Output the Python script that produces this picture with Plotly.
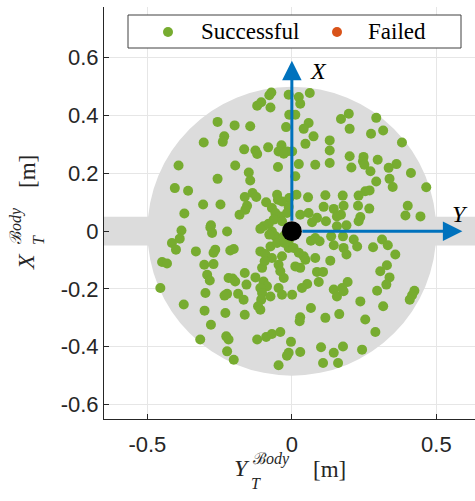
import plotly.graph_objects as go

# ---------------- data ----------------
# horizontal axis: Y_T^Body [m], vertical axis: X_T^Body [m]
SUCCESS_Y_BODY = [
    -0.078, -0.071, -0.011, -0.120, -0.106, -0.074, -0.009, -0.257, -0.198, -0.144,
    -0.020, -0.234, -0.239, -0.305, -0.165, -0.126, -0.120, -0.082, -0.036, -0.046,
    -0.028, -0.017, -0.392, -0.196, -0.149, -0.048, -0.257, -0.144, -0.405, -0.359,
    -0.163, -0.136, -0.123, -0.089, -0.051, -0.048, -0.009, -0.307, -0.247, -0.155,
    -0.161, -0.372, -0.181, -0.069, -0.057, -0.040, -0.063, -0.034, -0.080, -0.011,
    -0.280, -0.098, -0.109, -0.034, -0.017,
    # upper right
    0.062, 0.024, 0.029, 0.012, 0.170, 0.197, 0.292, 0.058, 0.041, 0.200,
    0.075, 0.274, 0.316, 0.047, 0.131, 0.381, 0.131, 0.001, 0.200, 0.248,
    0.246, 0.251, 0.297, 0.131, 0.024, 0.081, 0.206, 0.362, 0.335, 0.272,
    0.412, 0.338, 0.012, 0.292, 0.349, 0.465, 0.254, 0.269, 0.231, 0.176,
    0.116, 0.056, 0.016, 0.401, 0.229, 0.110, 0.145, 0.179, 0.268, 0.393,
    0.445, 0.058, 0.029, 0.087, 0.070, 0.118, 0.156, 0.170, 0.237, 0.231,
    0.189, 0.156,
    # lower left
    -0.382, -0.388, -0.415, -0.401, -0.282, -0.276, -0.224, -0.332, -0.265, -0.271,
    -0.213, -0.201, -0.449, -0.432, -0.303, -0.271, -0.293, -0.284, -0.219, -0.205,
    -0.196, -0.163, -0.126, -0.109, -0.092, -0.074, -0.069, -0.103, -0.094, -0.034,
    -0.011, -0.046, -0.028, -0.098, -0.086, -0.109, -0.103, -0.106, -0.117, -0.109,
    -0.157, -0.046, -0.034, -0.074, 0.001, -0.455, -0.299, -0.224, -0.233, -0.186,
    -0.167, -0.374, -0.302, -0.230, -0.163, -0.280, -0.317, -0.227, -0.219, -0.224,
    -0.201, -0.120, -0.089, -0.069, -0.040, -0.003, -0.011, -0.017, -0.046,
    # lower right
    0.066, 0.096, 0.081, 0.136, 0.177, 0.214, 0.226, 0.145, 0.179, 0.189,
    0.281, 0.312, 0.332, 0.358, 0.006, 0.024, 0.041, 0.047, 0.081, 0.133,
    0.012, 0.029, 0.087, 0.108, 0.093, 0.053, 0.035, 0.193, 0.145, 0.156,
    0.174, 0.179, 0.306, 0.329, 0.338, 0.327, 0.295, 0.424, 0.416, 0.408,
    0.237, 0.316, 0.066, 0.029, 0.027, 0.116, 0.164, 0.254, 0.289, 0.029,
    0.101, 0.145, 0.177, 0.243, 0.108, 0.160,
    # centre cluster
    -0.069, -0.057, -0.051, -0.028, -0.011, -0.078, -0.025, -0.040,
]
SUCCESS_X_BODY = [
    0.470, 0.480, 0.472, 0.434, 0.446, 0.428, 0.403, 0.378, 0.366, 0.363,
    0.360, 0.328, 0.309, 0.307, 0.283, 0.279, 0.267, 0.290, 0.297, 0.276,
    0.268, 0.276, 0.227, 0.227, 0.203, 0.222, 0.181, 0.175, 0.149, 0.140,
    0.118, 0.132, 0.118, 0.100, 0.126, 0.109, 0.115, 0.092, 0.092, 0.088,
    0.074, 0.061, 0.057, 0.080, 0.063, 0.051, 0.040, 0.034, 0.026, 0.084,
    0.020, 0.017, 0.008, 0.103, 0.063,
    # upper right
    0.478, 0.464, 0.441, 0.403, 0.388, 0.406, 0.392, 0.374, 0.354, 0.354,
    0.328, 0.337, 0.348, 0.302, 0.314, 0.307, 0.279, 0.276, 0.259, 0.257,
    0.242, 0.230, 0.247, 0.236, 0.232, 0.230, 0.220, 0.232, 0.219, 0.207,
    0.201, 0.181, 0.190, 0.172, 0.153, 0.152, 0.138, 0.141, 0.123, 0.123,
    0.124, 0.117, 0.126, 0.088, 0.088, 0.084, 0.077, 0.088, 0.078, 0.054,
    0.051, 0.063, 0.057, 0.046, 0.031, 0.034, 0.051, 0.057, 0.049, 0.034,
    0.020, 0.017,
    # lower left
    0.002, -0.026, -0.041, -0.064, 0.013, -0.006, -0.001, -0.070, -0.064, -0.075,
    -0.067, -0.062, -0.107, -0.112, -0.116, -0.114, -0.151, -0.171, -0.162, -0.164,
    -0.174, -0.145, -0.160, -0.070, -0.079, -0.053, -0.093, -0.127, -0.104, -0.087,
    -0.058, -0.116, -0.162, -0.174, -0.191, -0.197, -0.214, -0.237, -0.260, -0.272,
    -0.185, -0.197, -0.220, -0.226, -0.220, -0.197, -0.214, -0.217, -0.223, -0.217,
    -0.237, -0.254, -0.275, -0.283, -0.289, -0.324, -0.375, -0.364, -0.375, -0.416,
    -0.445, -0.375, -0.366, -0.356, -0.349, -0.383, -0.421, -0.431, -0.464,
    # lower right
    -0.033, -0.035, -0.024, -0.018, -0.018, -0.029, -0.053, -0.049, -0.058, -0.081,
    -0.056, -0.029, -0.049, -0.081, -0.058, -0.075, -0.087, -0.099, -0.093, -0.102,
    -0.122, -0.127, -0.141, -0.141, -0.176, -0.183, -0.197, -0.176, -0.202, -0.226,
    -0.197, -0.208, -0.139, -0.118, -0.160, -0.185, -0.206, -0.206, -0.222, -0.237,
    -0.243, -0.260, -0.266, -0.298, -0.312, -0.300, -0.287, -0.306, -0.349, -0.418,
    -0.402, -0.421, -0.399, -0.410, -0.456, -0.456,
    # centre cluster
    -0.001, -0.018, -0.041, -0.018, -0.035, -0.012, -0.041, -0.139,
]
FAILED_Y_BODY = []
FAILED_X_BODY = []

ORIGIN = [0.0]
X_TICKS = [-0.5, 0, 0.5]
X_TICK_TEXT = ["-0.5", "0", "0.5"]
Y_TICKS = [-0.6, -0.4, -0.2, 0, 0.2, 0.4, 0.6]
Y_TICK_TEXT = ["-0.6", "-0.4", "-0.2", "0", "0.2", "0.4", "0.6"]
LEGEND_LABELS = ["Successful", "Failed"]

WORKSPACE_RADIUS = 0.5
CORRIDOR_HALF = 0.05
FRAME_LEN = 0.59

# ---------------- styling ----------------
GREEN = "#77AC30"
ORANGE = "#D95319"
BLUE = "#0072BD"
GRAY = "#dcdcdc"
AX = "#262626"
GRID = "#e6e6e6"
SERIF = "Liberation Serif"
SANS = "Liberation Sans"

W, H = 475, 501
ML, MR, MT, MB = 104, 0, 7, 82
PW, PH = W - ML - MR, H - MT - MB
PXU = 289.0
XR = [-0.65, -0.65 + PW / PXU]
YR = [-0.65, -0.65 + PH / PXU]

fig = go.Figure()
fig.add_trace(go.Scatter(x=SUCCESS_Y_BODY, y=SUCCESS_X_BODY, mode="markers",
                         name=LEGEND_LABELS[0], marker=dict(color=GREEN, size=10, line=dict(width=0))))
fig.add_trace(go.Scatter(x=FAILED_Y_BODY, y=FAILED_X_BODY, mode="markers",
                         name=LEGEND_LABELS[1], marker=dict(color=ORANGE, size=10, line=dict(width=0))))
fig.add_trace(go.Scatter(x=ORIGIN, y=ORIGIN, mode="markers", showlegend=False,
                         marker=dict(color="black", size=20, line=dict(width=0)), hoverinfo="skip"))

# workspace (circle + corridor), beneath data but above grid
fig.add_shape(type="circle", xref="x", yref="y", x0=-WORKSPACE_RADIUS, x1=WORKSPACE_RADIUS,
              y0=-WORKSPACE_RADIUS, y1=WORKSPACE_RADIUS, fillcolor=GRAY, line=dict(width=0), layer="between")
fig.add_shape(type="rect", xref="x", yref="y", x0=XR[0], x1=0.7, y0=-CORRIDOR_HALF, y1=CORRIDOR_HALF,
              fillcolor=GRAY, line=dict(width=0), layer="between")

# body frame arrows
for tx, ty in [(0, FRAME_LEN), (FRAME_LEN, 0)]:
    fig.add_annotation(x=tx, y=ty, ax=0, ay=0, xref="x", yref="y", axref="x", ayref="y",
                       text="", showarrow=True, arrowhead=2, arrowsize=1.3, arrowwidth=3,
                       arrowcolor=BLUE, startstandoff=9)
fig.add_annotation(x=0.092, y=0.555, xref="x", yref="y", text="<i>X</i>", showarrow=False,
                   font=dict(family=SERIF, size=24, color="black"))
fig.add_annotation(x=0.583, y=0.061, xref="x", yref="y", text="<i>Y</i>", showarrow=False,
                   font=dict(family=SERIF, size=24, color="black"))


def px(x):
    return (x - ML) / PW


def py(y):
    return (H - MB - y) / PH


def lab(x, y, t, s, ang=0, anchor="center", color=AX):
    fig.add_annotation(x=px(x), y=py(y), xref="paper", yref="paper", text=t, showarrow=False,
                       xanchor=anchor, yanchor="middle", textangle=ang,
                       font=dict(family=SERIF, size=s, color=color))


# x-axis title  Y_T^{Body} [m]
lab(241.5, 468, "<i>Y</i>", 24)
lab(271, 459, "ℬ<i>ody</i>", 16)
lab(255.5, 483, "<i>T</i>", 16)
lab(329, 469, "[m]", 23)
# y-axis title  X_T^{Body} [m]
lab(26, 262, "<i>X</i>", 24, -90)
lab(16, 226, "ℬ<i>ody</i>", 16, -90)
lab(38, 240, "<i>T</i>", 16, -90)
lab(27, 172, "[m]", 23, -90)

# legend box (drawn to match the original's compact legend)
fig.add_shape(type="rect", xref="paper", yref="paper", x0=px(128), x1=px(461), y0=py(48), y1=py(15),
              fillcolor="white", line=dict(color="#404040", width=1), layer="above")
for cx, col, txt, tx in [(168, GREEN, LEGEND_LABELS[0], 199), (337, ORANGE, LEGEND_LABELS[1], 366)]:
    fig.add_shape(type="circle", xref="paper", yref="paper", xsizemode="pixel", ysizemode="pixel",
                  xanchor=px(cx), yanchor=py(32), x0=-5, x1=5, y0=-5, y1=5,
                  fillcolor=col, line=dict(width=0), layer="above")
    lab(tx, 32, txt, 23, anchor="left", color="black")

axis_common = dict(showline=True, linecolor=AX, linewidth=1, ticks="inside", ticklen=5,
                   tickcolor=AX, showgrid=True, gridcolor=GRID, gridwidth=1, zeroline=False,
                   tickfont=dict(family=SANS, size=22, color=AX), mirror=False, automargin=False)
fig.update_xaxes(range=XR, tickvals=X_TICKS, ticktext=X_TICK_TEXT, ticklabelstandoff=6, **axis_common)
fig.update_yaxes(range=YR, tickvals=Y_TICKS, ticktext=Y_TICK_TEXT, **axis_common)

fig.update_layout(
    width=W, height=H, margin=dict(l=ML, r=MR, t=MT, b=MB, pad=0, autoexpand=False),
    plot_bgcolor="white", paper_bgcolor="white",
    showlegend=False,
)

fig.write_html("out.html", config={"displayModeBar": False},
               post_script="document.body.style.margin='0';document.body.style.overflow='hidden';")
